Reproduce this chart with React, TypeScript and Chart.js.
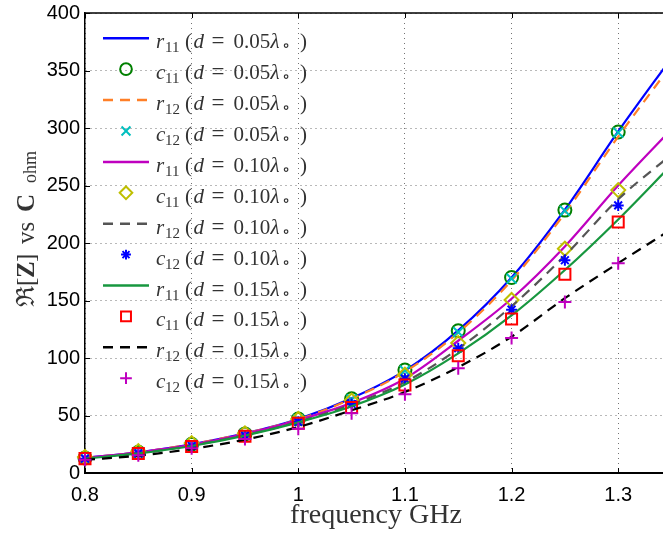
import React, { useEffect, useRef } from "react";
import { Chart, registerables } from "chart.js";

Chart.register(...registerables);

// ---------- data ----------
const freq = [0.8, 0.85, 0.9, 0.95, 1.0, 1.05, 1.1, 1.15, 1.2, 1.25, 1.3];
const lineFreq = [0.8, 0.85, 0.9, 0.95, 1.0, 1.05, 1.1, 1.15, 1.2, 1.25, 1.3, 1.35];

const xTicks = [0.8, 0.9, 1.0, 1.1, 1.2, 1.3];
const xTickLabels = ["0.8", "0.9", "1", "1.1", "1.2", "1.3"];
const yTicks = [0, 50, 100, 150, 200, 250, 300, 350, 400];
const X_MIN = 0.8;
const X_MAX = 1.342;
const Y_MIN = 0;
const Y_MAX = 400;

// fitted curves (r)
const r11_005 = [13, 18, 25, 34.5, 47, 65, 89, 124, 170, 229, 297, 361];
const r12_005 = [13, 18, 25, 34.5, 46.5, 64.5, 88, 122, 167.5, 226, 292.5, 355];
const r11_010 = [13, 18, 24.5, 34, 46, 61, 82, 115, 151.5, 197, 250, 299];
const r12_010 = [12.5, 17, 24, 33, 44.5, 59.5, 79, 108, 145, 189, 238, 277];
const r11_015 = [12.5, 17, 23.5, 32.5, 44, 58, 77, 104, 137, 176.5, 220.5, 268];
const r12_015 = [11.5, 15, 21, 29, 40, 54.5, 70.5, 92, 118.5, 152, 182.5, 212];
// computed points (c)
const c11_005 = [13, 18, 25, 34, 47, 64.5, 89.5, 123.7, 170, 228.6, 296.5];
const c12_005 = [13, 18, 25, 34, 46.5, 64, 89, 122.5, 169, 228, 296];
const c11_010 = [14, 19, 26, 34.5, 47, 63, 85.5, 113, 150.5, 195, 246];
const c12_010 = [12.5, 17, 23.5, 32.5, 44.5, 60, 82, 108.5, 142, 185, 232.7];
const c11_015 = [12.5, 17, 23, 32, 43.2, 57, 76.5, 102, 134, 172.8, 218.2];
const c12_015 = [11.5, 15.5, 21.5, 29.5, 38.5, 52, 68.5, 91, 117.3, 148.8, 182.4];

const legendSym = ["r", "c", "r", "c", "r", "c", "r", "c", "r", "c", "r", "c"];
const legendSub = ["11", "11", "12", "12", "11", "11", "12", "12", "11", "11", "12", "12"];
const legendD = ["0.05", "0.05", "0.05", "0.05", "0.10", "0.10", "0.10", "0.10", "0.15", "0.15", "0.15", "0.15"];

// ---------- styles ----------
type Sty = {
  kind: "line" | "marker";
  color: string;
  dash?: number[];
  point?: string;
  radius?: number;
};

const seriesData: number[][] = [
  r11_005, c11_005, r12_005, c12_005,
  r11_010, c11_010, r12_010, c12_010,
  r11_015, c11_015, r12_015, c12_015,
];

const seriesStyle: Sty[] = [
  { kind: "line", color: "#0000ff" },
  { kind: "marker", color: "#008000", point: "circle", radius: 6.5 },
  { kind: "line", color: "#ff7f27", dash: [10, 7] },
  { kind: "marker", color: "#00bfbf", point: "crossRot", radius: 7 },
  { kind: "line", color: "#bf00bf" },
  { kind: "marker", color: "#bfbf00", point: "rectRot", radius: 7 },
  { kind: "line", color: "#555555", dash: [10, 7] },
  { kind: "marker", color: "#0000ff", point: "star", radius: 5.5 },
  { kind: "line", color: "#17973f" },
  { kind: "marker", color: "#ff0000", point: "rect", radius: 7.8 },
  { kind: "line", color: "#000000", dash: [10, 7] },
  { kind: "marker", color: "#bf00bf", point: "cross", radius: 6.5 },
];

const SERIF = "'Liberation Serif', 'DejaVu Serif', serif";
const SANS = "'Liberation Sans', Arial, sans-serif";
const LINE_W = 2.2;

function drawMarker(ctx: CanvasRenderingContext2D, style: string, x: number, y: number, r: number, color: string) {
  ctx.save();
  ctx.strokeStyle = color;
  ctx.lineWidth = 2;
  ctx.beginPath();
  const s = r * Math.SQRT1_2;
  switch (style) {
    case "circle":
      ctx.arc(x, y, r, 0, Math.PI * 2);
      break;
    case "rect":
      ctx.rect(x - s, y - s, 2 * s, 2 * s);
      break;
    case "rectRot":
      ctx.moveTo(x - r, y);
      ctx.lineTo(x, y - r);
      ctx.lineTo(x + r, y);
      ctx.lineTo(x, y + r);
      ctx.closePath();
      break;
    case "cross":
      ctx.moveTo(x - r, y); ctx.lineTo(x + r, y);
      ctx.moveTo(x, y - r); ctx.lineTo(x, y + r);
      break;
    case "crossRot":
      ctx.moveTo(x - s, y - s); ctx.lineTo(x + s, y + s);
      ctx.moveTo(x + s, y - s); ctx.lineTo(x - s, y + s);
      break;
    case "star":
      ctx.moveTo(x - r, y); ctx.lineTo(x + r, y);
      ctx.moveTo(x, y - r); ctx.lineTo(x, y + r);
      ctx.moveTo(x - s, y - s); ctx.lineTo(x + s, y + s);
      ctx.moveTo(x + s, y - s); ctx.lineTo(x - s, y + s);
      break;
  }
  ctx.stroke();
  ctx.restore();
}

type Run = { t: string; font: string; x: number; dy: number };

function drawRuns(ctx: CanvasRenderingContext2D, runs: Run[], x0: number, y0: number, color: string) {
  ctx.save();
  ctx.fillStyle = color;
  ctx.textBaseline = "alphabetic";
  ctx.textAlign = "left";
  for (const r of runs) {
    ctx.font = r.font;
    ctx.fillText(r.t, x0 + r.x, y0 + r.dy);
  }
  ctx.restore();
}

const overlayPlugin = {
  id: "overlay",
  afterDraw(chart: any) {
    const ctx: CanvasRenderingContext2D = chart.ctx;
    const a = chart.chartArea;
    const xs = chart.scales.x;
    const ys = chart.scales.y;

    // top frame line and inward ticks
    ctx.save();
    ctx.strokeStyle = "#000";
    ctx.lineWidth = 1.5;
    ctx.beginPath();
    ctx.moveTo(a.left, a.top);
    ctx.lineTo(a.right + 2, a.top);
    ctx.stroke();
    ctx.lineWidth = 1;
    ctx.beginPath();
    for (const v of xTicks) {
      const px = Math.round(xs.getPixelForValue(v)) + 0.5;
      ctx.moveTo(px, a.bottom);
      ctx.lineTo(px, a.bottom - 5);
      ctx.moveTo(px, a.top);
      ctx.lineTo(px, a.top + 5);
    }
    for (const v of yTicks) {
      const py = Math.round(ys.getPixelForValue(v)) + 0.5;
      ctx.moveTo(a.left, py);
      ctx.lineTo(a.left + 5, py);
    }
    ctx.stroke();
    ctx.restore();

    // legend
    const sampleL = a.left + 18;
    const sampleR = a.left + 64;
    const sampleC = a.left + 41;
    const textL = a.left + 70;
    const big = `21px ${SERIF}`;
    const bigI = `italic 21px ${SERIF}`;
    const small = `15px ${SERIF}`;
    for (let i = 0; i < seriesStyle.length; i++) {
      const st = seriesStyle[i];
      const y = a.top + 25.3 + 30.9 * i;
      if (st.kind === "line") {
        ctx.save();
        ctx.strokeStyle = st.color;
        ctx.lineWidth = LINE_W + 0.3;
        ctx.setLineDash(st.dash || []);
        ctx.beginPath();
        ctx.moveTo(sampleL, y);
        ctx.lineTo(sampleR, y);
        ctx.stroke();
        ctx.restore();
      } else {
        drawMarker(ctx, st.point as string, sampleC, y, (st.radius as number) * 0.9, st.color);
      }
      const runs: Run[] = [
        { t: legendSym[i], font: bigI, x: 1, dy: 0 },
        { t: legendSub[i], font: small, x: 10, dy: 4 },
        { t: "(", font: big, x: 30, dy: 0 },
        { t: "d", font: bigI, x: 38.5, dy: 0 },
        { t: "=", font: `23px ${SERIF}`, x: 56.5, dy: 0 },
        { t: legendD[i], font: big, x: 78.5, dy: 0 },
        { t: "λ", font: bigI, x: 115.5, dy: 0 },
        { t: "∘", font: `17px ${SERIF}`, x: 127, dy: 3 },
        { t: ")", font: big, x: 145, dy: 0 },
      ];
      drawRuns(ctx, runs, textL, y + 10, "#333");
    }

    // x title
    ctx.save();
    ctx.fillStyle = "#333";
    ctx.font = `28px ${SERIF}`;
    ctx.textAlign = "center";
    ctx.textBaseline = "alphabetic";
    ctx.fillText("frequency GHz", 376, 523);
    ctx.restore();

    // y title (rotated)
    ctx.save();
    ctx.translate(34, 307);
    ctx.rotate(-Math.PI / 2);
    const yr: Run[] = [
      { t: "ℜ", font: `25px ${SERIF}`, x: 0, dy: 0 },
      { t: "[", font: `25px ${SERIF}`, x: 21, dy: 0 },
      { t: "Z", font: `bold 25px ${SERIF}`, x: 29, dy: 0 },
      { t: "]", font: `25px ${SERIF}`, x: 45, dy: 0 },
      { t: "vs", font: `25px ${SERIF}`, x: 63, dy: 0 },
      { t: "C", font: `bold 25px ${SERIF}`, x: 95, dy: 0 },
      { t: "ohm", font: `18px ${SERIF}`, x: 124, dy: 2 },
    ];
    drawRuns(ctx, yr, 0, 0, "#333");
    ctx.restore();
  },
};

export default function App() {
  const ref = useRef<HTMLCanvasElement | null>(null);

  useEffect(() => {
    const canvas = ref.current;
    if (!canvas) return;

    const datasets: any[] = seriesStyle.map((st, i) => {
      const vals = seriesData[i];
      const xsrc = st.kind === "line" ? lineFreq : freq;
      const data = vals.map((v, j) => ({ x: xsrc[j], y: v }));
      const base: any = {
        label: `${legendSym[i]}${legendSub[i]}(d=${legendD[i]})`,
        data,
        order: seriesStyle.length - i,
      };
      if (st.kind === "line") {
        return {
          ...base,
          borderColor: st.color,
          borderWidth: LINE_W,
          borderDash: st.dash || [],
          pointRadius: 0,
          cubicInterpolationMode: "monotone",
          fill: false,
        };
      }
      return {
        ...base,
        showLine: false,
        borderColor: st.color,
        backgroundColor: "transparent",
        pointStyle: st.point,
        pointRadius: st.radius,
        pointBorderColor: st.color,
        pointBackgroundColor: "transparent",
        pointBorderWidth: 2,
        clip: false,
      };
    });

    const gridColor = "rgba(0,0,0,0.55)";

    const chart = new Chart(canvas, {
      type: "line",
      data: { datasets },
      options: {
        animation: false,
        responsive: false,
        devicePixelRatio: 1,
        layout: { autoPadding: false, padding: { top: 13, left: 0, right: 0, bottom: 0 } },
        plugins: {
          legend: { display: false },
          tooltip: { enabled: false },
          title: { display: false },
        },
        scales: {
          x: {
            type: "linear",
            min: X_MIN,
            max: X_MAX,
            afterBuildTicks: (s: any) => {
              s.ticks = xTicks.map((v) => ({ value: v }));
            },
            afterFit: (s: any) => {
              s.height = 62;
              s.paddingLeft = 0;
              s.paddingRight = 0;
            },
            ticks: {
              callback: (_v: any, i: number) => xTickLabels[i],
              font: { family: SANS, size: 20 },
              color: "#000",
              padding: 10,
              maxRotation: 0,
              autoSkip: false,
            },
            grid: { color: gridColor, lineWidth: 1, drawTicks: false },
            border: { display: true, color: "#000", width: 2, dash: [1, 4] },
          },
          y: {
            type: "linear",
            min: Y_MIN,
            max: Y_MAX,
            afterBuildTicks: (s: any) => {
              s.ticks = yTicks.map((v) => ({ value: v }));
            },
            afterFit: (s: any) => {
              s.width = 85;
              s.paddingTop = 0;
              s.paddingBottom = 0;
            },
            ticks: {
              callback: (v: any) => String(v),
              font: { family: SANS, size: 20 },
              color: "#000",
              padding: 5,
              autoSkip: false,
            },
            grid: { color: gridColor, lineWidth: 1, drawTicks: false },
            border: { display: true, color: "#000", width: 1.5, dash: [1, 4] },
          },
        },
      } as any,
      plugins: [overlayPlugin],
    });

    return () => chart.destroy();
  }, []);

  return (
    <div style={{ position: "absolute", left: 0, top: 0, width: 663, height: 535, background: "#fff" }}>
      <canvas ref={ref} width={663} height={535} style={{ display: "block" }} />
    </div>
  );
}
